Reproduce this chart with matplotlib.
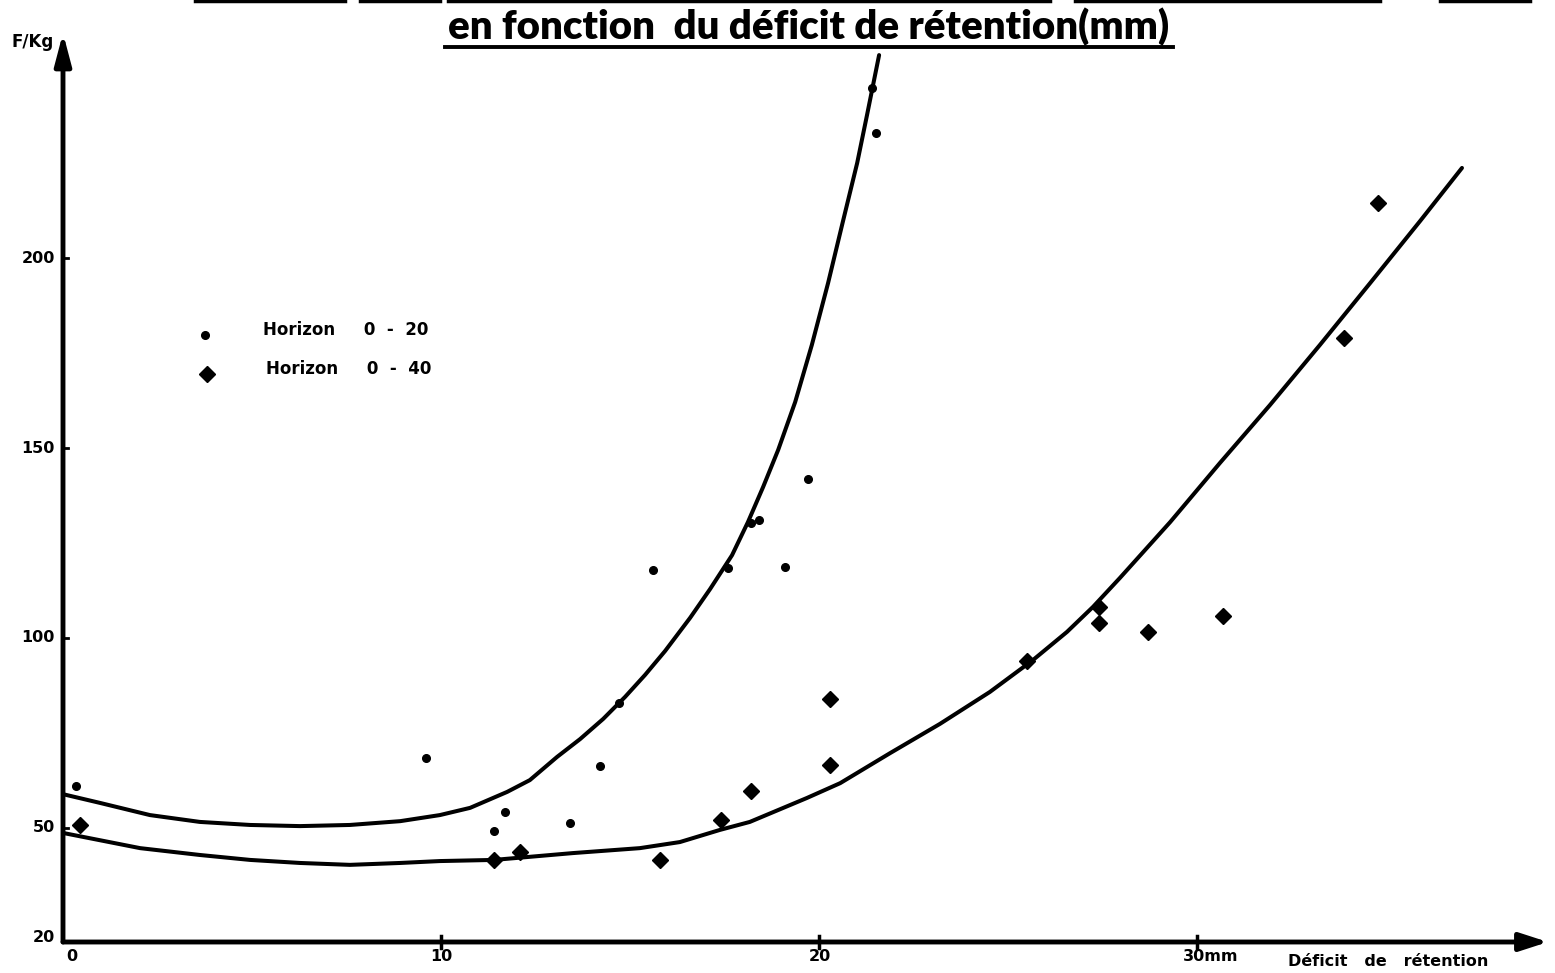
import matplotlib
matplotlib.use("Agg")
import matplotlib.pyplot as plt
from matplotlib.lines import Line2D

# ---- data ----
h20_x = [0.35, 9.6, 11.4, 11.7, 13.4, 14.2, 14.7, 15.6, 17.6, 18.2, 18.4, 19.1, 19.7, 21.4, 21.5]
h20_y = [61, 68.5, 49.2, 54.2, 51.3, 66.3, 83, 118, 118.4, 130.3, 131, 118.7, 141.8, 244.7, 232.9]

h40_x = [0.45, 11.4, 12.1, 15.8, 17.4, 18.2, 20.3, 20.3, 25.5, 27.4, 27.4, 28.7, 30.7, 33.9, 34.8]
h40_y = [50.8, 41.6, 43.7, 41.6, 52.1, 59.7, 83.9, 66.6, 93.9, 108.2, 103.9, 101.6, 105.8, 179, 214.5]

curve20_x = [0, 0.98, 2.30, 3.62, 4.95, 6.27, 7.59, 8.92, 9.97, 10.77, 11.75, 12.35,
             13.07, 13.68, 14.29, 14.87, 15.40, 15.93, 16.59, 17.12, 17.70, 18.12, 18.52,
             18.92, 19.37, 19.81, 20.24, 20.63, 21.01, 21.27, 21.43, 21.59]
curve20_y = [58.9, 56.6, 53.4, 51.6, 50.8, 50.5, 50.8, 51.8, 53.4, 55.3, 59.5, 62.6,
             68.7, 73.4, 78.7, 84.5, 90.3, 96.6, 105.3, 112.9, 121.8, 130.5, 139.7,
             149.5, 162.1, 177.1, 193.4, 209.5, 225.0, 237.6, 245.5, 253.4]

curve40_x = [0, 2.04, 3.62, 4.95, 6.27, 7.59, 8.92, 9.97, 11.40, 13.49, 15.26, 16.32, 17.38,
             18.17, 19.68, 20.56, 21.88, 23.20, 24.52, 25.66, 26.56, 27.25, 27.96,
             29.29, 30.61, 31.93, 33.25, 34.58, 35.90, 37.01]
curve40_y = [48.7, 44.7, 42.9, 41.6, 40.8, 40.3, 40.8, 41.3, 41.6, 43.4, 44.7, 46.3, 49.5,
             51.6, 57.9, 61.8, 69.7, 77.4, 85.8, 94.2, 101.6, 108.2, 115.8,
             130.5, 146.1, 161.3, 177.1, 193.4, 209.7, 223.7]

x_ticks = [0, 10, 20, 30]
x_tick_labels = ["0", "10", "20", "30mm"]
y_ticks = [20, 50, 100, 150, 200]
y_tick_labels = ["20", "50", "100", "150", "200"]

legend_labels = ["Horizon     0  -  20", "Horizon     0  -  40"]
title = "en fonction  du déficit de rétention(mm)"
x_label = "Déficit   de   rétention"
y_label = "F/Kg"

# ---- figure ----
W, H = 1555, 973
fig = plt.figure(figsize=(W / 100, H / 100), dpi=100)
fig.patch.set_facecolor("white")

def fx(px):
    return px / W

def fy(py):
    return 1 - py / H

x0_px, x1_px = 63, 1548
y0_px, y1_px = 942, 33
ppx = 37.8
ppy = 3.8
ax = fig.add_axes([fx(x0_px), fy(y0_px), (x1_px - x0_px) / W, (y0_px - y1_px) / H])
ax.set_xlim(0, (x1_px - x0_px) / ppx)
ax.set_ylim(20, 20 + (y0_px - y1_px) / ppy)
ax.patch.set_alpha(0)
for s in ax.spines.values():
    s.set_visible(False)
ax.set_xticks([])
ax.set_yticks([])

lw_curve = 2.9
for cx, cy in [(curve20_x, curve20_y), (curve40_x, curve40_y)]:
    ax.plot(cx, cy, color="black", lw=lw_curve, solid_capstyle="round",
            solid_joinstyle="round", clip_on=False)

ax.plot(h20_x, h20_y, "o", color="black", ms=5.5, ls="none", clip_on=False)
ax.plot(h40_x, h40_y, "D", color="black", ms=8, ls="none", clip_on=False)

# axes with arrows
ax.annotate("", xy=(1.0, 0.0), xytext=(0.0, 0.0), xycoords="axes fraction",
            textcoords="axes fraction",
            arrowprops=dict(arrowstyle="-|>,head_length=1.7,head_width=0.55", lw=3.5,
                            color="black", shrinkA=0, shrinkB=0))
ax.annotate("", xy=(0.0, 1.0), xytext=(0.0, 0.0), xycoords="axes fraction",
            textcoords="axes fraction",
            arrowprops=dict(arrowstyle="-|>,head_length=1.9,head_width=0.5", lw=3.5,
                            color="black", shrinkA=0, shrinkB=0))

font = dict(family=["DejaVu Sans"], fontweight="bold")
tfont = dict(family=["Lato", "DejaVu Sans"], fontweight="heavy")

# tick marks and labels
for xv, lab in zip(x_ticks, x_tick_labels):
    if xv != 0:
        ax.plot([xv, xv], [20 - 1.6, 20 + 1.6], color="black", lw=2.5, clip_on=False)
    dx = {"0": 6, "30mm": 10}.get(lab, 0.3)
    ax.annotate(lab, xy=(xv, 20), xytext=(dx, -5),
                textcoords="offset points", ha="center", va="top", fontsize=11.5, **font)
for yv, lab in zip(y_ticks, y_tick_labels):
    ax.plot([0, 0.12], [yv, yv], color="black", lw=2, clip_on=False)
    ax.annotate(lab, xy=(0, yv), xytext=(-6, 3 if yv == 20 else 0),
                textcoords="offset points", ha="right", va="center", fontsize=11.5, **font)

fig.text(fx(1388), fy(962), x_label, ha="center", va="center", fontsize=11.5, **font)
fig.text(fx(33), fy(42), y_label, ha="center", va="center", fontsize=12, **font)

# legend (hand drawn style)
ax.plot([(205 - x0_px) / ppx], [20 + (y0_px - 335) / ppy], "o", color="black", ms=5.5, clip_on=False)
ax.plot([(207 - x0_px) / ppx], [20 + (y0_px - 374) / ppy], "D", color="black", ms=8, clip_on=False)
fig.text(fx(263), fy(330), legend_labels[0], ha="left", va="center", fontsize=12, **font)
fig.text(fx(266), fy(369), legend_labels[1], ha="left", va="center", fontsize=12, **font)

# title with underline
fig.text(fx(809), fy(39), title, ha="center", va="baseline", fontsize=29, **tfont)
fig.add_artist(Line2D([fx(445), fx(1173)], [fy(47), fy(47)], color="black", lw=2.8))

# remnants of the cropped line above the title
for a, b in [(195, 345), (360, 440), (448, 1050), (1075, 1380), (1440, 1530)]:
    fig.add_artist(Line2D([fx(a), fx(b)], [fy(0.5), fy(0.5)], color="black", lw=2.5))

fig.savefig("out.png", dpi=100, facecolor="white")
